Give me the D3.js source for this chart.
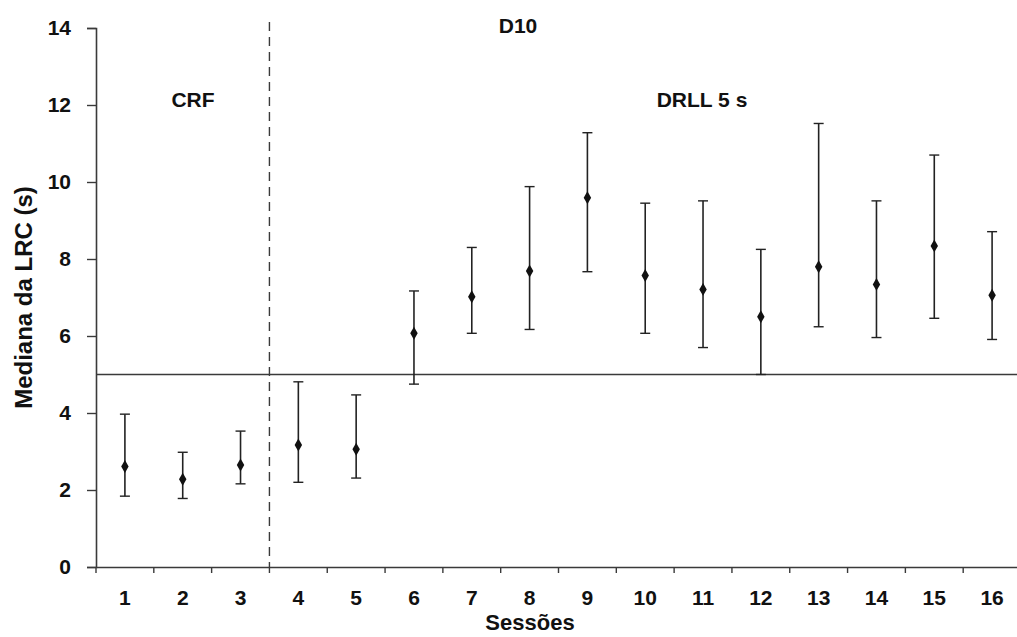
<!DOCTYPE html>
<html>
<head>
<meta charset="utf-8">
<script src="https://cdnjs.cloudflare.com/ajax/libs/d3/7.8.5/d3.min.js"></script>
<style>
	body { margin: 0; background: #fff; }
	svg text { font-family: "Liberation Sans", Arial, sans-serif; font-weight: bold; fill: #111; }
</style>
</head>
<body>
<svg id="chart" width="1017" height="637"></svg>
<script>
"use strict";

// sessions and the median / range
var sessions = [1, 2, 3, 4, 5, 6, 7, 8, 9, 10, 11, 12, 13, 14, 15, 16];
var medians = [2.61, 2.28, 2.65, 3.17, 3.06, 6.07, 7.02, 7.69, 9.59, 7.57, 7.21, 6.5, 7.8, 7.34, 8.34, 7.06];
var lows = [1.84, 1.78, 2.16, 2.2, 2.31, 4.75, 6.07, 6.17, 7.67, 6.07, 5.7, 5.0, 6.24, 5.96, 6.46, 5.91];
var highs = [3.97, 2.98, 3.53, 4.81, 4.47, 7.17, 8.3, 9.88, 11.28, 9.45, 9.51, 8.25, 11.52, 9.51, 10.7, 8.71];
var yTicks = [0, 2, 4, 6, 8, 10, 12, 14];
var criterion = 5;      // DRL 5 s line
var phaseBreak = 3;     // dashed line after session 3

var svg = d3.select("#chart");
var lineColor = "#3a3a3a";

var x = d3.scaleBand().domain(sessions).range([96, 1021]).padding(0);
var y = d3.scaleLinear().domain([0, 14]).range([567, 28]);

var data = sessions.map(function(s, i){
	return {session: s, med: medians[i], lo: lows[i], hi: highs[i]};
});

//y axis
var yAxis = svg.append("g")
	.attr("transform", "translate(96,0)")
	.call(d3.axisLeft(y).tickValues(yTicks).tickSize(9).tickPadding(16));
yAxis.select(".domain").attr("stroke", lineColor).attr("stroke-width", 1.6);
yAxis.selectAll(".tick line").attr("stroke", lineColor).attr("stroke-width", 1.4);
yAxis.selectAll(".tick text").style("font-size", "21px").attr("fill", "#111");

//x axis: labels at band centres, ticks on band edges
var xAxis = svg.append("g")
	.attr("transform", "translate(0,567)")
	.call(d3.axisBottom(x).tickSize(0).tickPadding(23));
xAxis.select(".domain").attr("stroke", lineColor).attr("stroke-width", 1.6);
xAxis.selectAll(".tick text").style("font-size", "21px").attr("fill", "#111");

svg.selectAll(".xEdge")
	.data(sessions)
	.enter()
	.append("line")
	.attr("class", "xEdge")
	.attr("stroke", lineColor)
	.attr("stroke-width", 1.4)
	.attr("x1", function(d){ return x(d); })
	.attr("x2", function(d){ return x(d); })
	.attr("y1", 567)
	.attr("y2", 573);

//axis titles
svg.append("text")
	.attr("text-anchor", "middle")
	.attr("transform", "translate(32," + y(7.0) + ") rotate(-90)")
	.style("font-size", "24px")
	.text("Mediana da LRC (s)");

svg.append("text")
	.attr("text-anchor", "middle")
	.attr("x", 530)
	.attr("y", 630)
	.style("font-size", "22px")
	.text("Sessões");

//criterion line
svg.append("line")
	.attr("stroke", lineColor)
	.attr("stroke-width", 1.6)
	.attr("x1", 96)
	.attr("x2", 1017)
	.attr("y1", y(criterion))
	.attr("y2", y(criterion));

//phase change line
var breakX = x(phaseBreak) + x.bandwidth();
svg.append("line")
	.attr("stroke", lineColor)
	.attr("stroke-width", 1.4)
	.attr("stroke-dasharray", "9,6")
	.attr("x1", breakX)
	.attr("x2", breakX)
	.attr("y1", 22)
	.attr("y2", 567);

//phase labels
svg.append("text").attr("text-anchor", "middle").attr("x", 193).attr("y", 107)
	.style("font-size", "21px").text("CRF");
svg.append("text").attr("text-anchor", "middle").attr("x", 518).attr("y", 33)
	.style("font-size", "21px").text("D10");
svg.append("text").attr("text-anchor", "middle").attr("x", 702).attr("y", 107)
	.style("font-size", "21px").text("DRLL 5 s");

//error bars
var cx = function(d){ return x(d.session) + x.bandwidth()/2; };

var bars = svg.selectAll(".errBar")
	.data(data)
	.enter()
	.append("g")
	.attr("class", "errBar");

bars.append("line")
	.attr("stroke", "#222")
	.attr("stroke-width", 1.6)
	.attr("x1", cx).attr("x2", cx)
	.attr("y1", function(d){ return y(d.lo); })
	.attr("y2", function(d){ return y(d.hi); });

bars.append("line")
	.attr("stroke", "#222")
	.attr("stroke-width", 1.4)
	.attr("x1", function(d){ return cx(d) - 5; })
	.attr("x2", function(d){ return cx(d) + 5; })
	.attr("y1", function(d){ return y(d.hi); })
	.attr("y2", function(d){ return y(d.hi); });

bars.append("line")
	.attr("stroke", "#222")
	.attr("stroke-width", 1.4)
	.attr("x1", function(d){ return cx(d) - 5; })
	.attr("x2", function(d){ return cx(d) + 5; })
	.attr("y1", function(d){ return y(d.lo); })
	.attr("y2", function(d){ return y(d.lo); });

//median markers
bars.append("path")
	.attr("fill", "#111")
	.attr("d", d3.symbol().type(d3.symbolDiamond).size(48))
	.attr("transform", function(d){ return "translate(" + cx(d) + "," + y(d.med) + ")"; });
</script>
</body>
</html>
